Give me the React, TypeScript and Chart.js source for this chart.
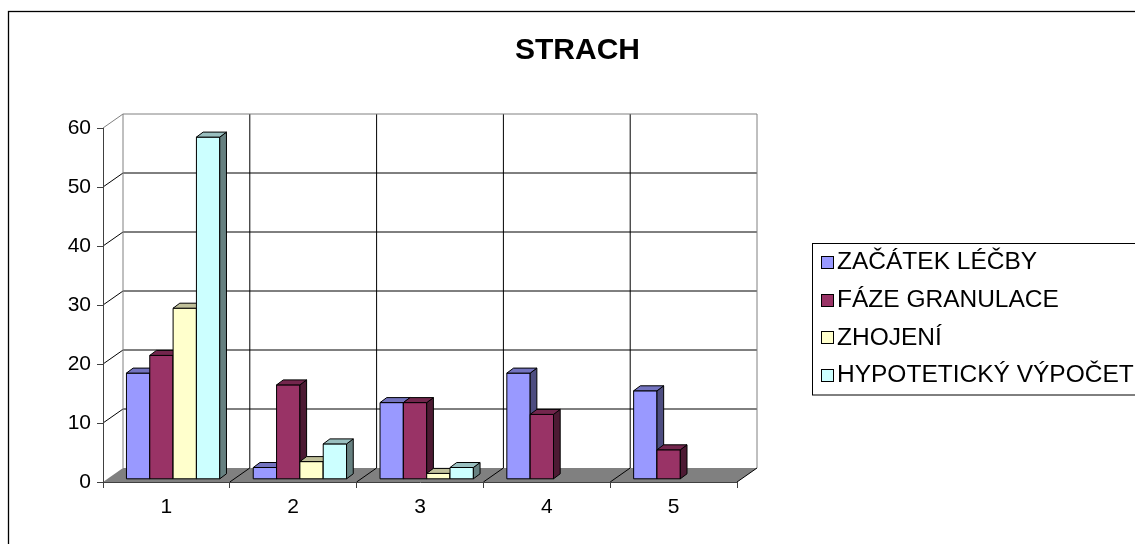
import React, { useEffect, useRef } from 'react';
import { Chart, registerables } from 'chart.js';

Chart.register(...registerables);

// Categories and series values
const categories = ['1', '2', '3', '4', '5'];
const seriesNames = ['ZAČÁTEK LÉČBY', 'FÁZE GRANULACE', 'ZHOJENÍ', 'HYPOTETICKÝ VÝPOČET'];
const zacatekLecby = [18, 2, 13, 18, 15];
const fazeGranulace = [21, 16, 13, 11, 5];
const zhojeni = [29, 3, 1, null, null];
const hypotetickyVypocet = [58, 6, 2, null, null];
const yMin = 0;
const yMax = 60;
const yStep = 10;
const titleText = 'STRACH';

// Face colours of the 3D columns: front, top (lit), side (shaded)
const frontColors = ['#9999FF', '#993366', '#FFFFCC', '#CCFFFF'];
const topColors = ['#7373BF', '#73264D', '#BFBF99', '#99BFBF'];
const sideColors = ['#4D4D80', '#4D1A33', '#808066', '#668080'];

const FONT = '"Liberation Sans", Arial, Helvetica, sans-serif';

// Oblique projection offsets
const WALL_DEPTH = { x: 20, y: -14 };
const BAR_SHIFT = { x: 6.7, y: -2.7 };
const BAR_DEPTH = { x: 6.7, y: -5 };

function poly(ctx: CanvasRenderingContext2D, pts: number[][], fill: string, stroke?: string) {
  ctx.beginPath();
  ctx.moveTo(pts[0][0], pts[0][1]);
  for (let i = 1; i < pts.length; i++) ctx.lineTo(pts[i][0], pts[i][1]);
  ctx.closePath();
  if (fill) {
    ctx.fillStyle = fill;
    ctx.fill();
  }
  if (stroke) {
    ctx.strokeStyle = stroke;
    ctx.lineWidth = 1;
    ctx.stroke();
  }
}

function line(ctx: CanvasRenderingContext2D, x1: number, y1: number, x2: number, y2: number, color: string) {
  ctx.beginPath();
  ctx.moveTo(x1, y1);
  ctx.lineTo(x2, y2);
  ctx.strokeStyle = color;
  ctx.lineWidth = 1;
  ctx.stroke();
}

const excel3dPlugin = {
  id: 'excel3d',
  beforeDraw(chart: any) {
    const { ctx, chartArea: a, scales } = chart;
    const yScale = scales.y;
    const L = a.left;
    const R = a.right;
    const T = a.top;
    const B = a.bottom;
    const dx = WALL_DEPTH.x;
    const dy = WALL_DEPTH.y;
    const cw = (R - L) / categories.length;

    ctx.save();
    ctx.fillStyle = '#ffffff';
    ctx.fillRect(0, 0, chart.width, chart.height);

    // outer frame
    ctx.strokeStyle = '#000000';
    ctx.lineWidth = 1.3;
    ctx.strokeRect(8.5, 11.5, chart.width + 40, chart.height + 40);

    // title
    ctx.fillStyle = '#000000';
    ctx.font = `bold 30px ${FONT}`;
    ctx.textAlign = 'center';
    ctx.textBaseline = 'middle';
    ctx.fillText(titleText, 577.5, 51);

    // back wall
    poly(ctx, [[L + dx, T + dy], [R + dx, T + dy], [R + dx, B + dy], [L + dx, B + dy]], '#ffffff');
    // side wall
    poly(ctx, [[L, T], [L + dx, T + dy], [L + dx, B + dy], [L, B]], '#ffffff');
    // floor
    poly(ctx, [[L, B], [R, B], [R + dx, B + dy], [L + dx, B + dy]], '#808080');

    // horizontal gridlines on back and side walls
    for (let v = yMin + yStep; v < yMax; v += yStep) {
      const yp = yScale.getPixelForValue(v);
      line(ctx, L + dx, yp + dy, R + dx, yp + dy, '#000000');
      line(ctx, L, yp, L + dx, yp + dy, '#000000');
    }
    // vertical gridlines on back wall at category boundaries
    for (let k = 1; k < categories.length; k++) {
      const xb = L + k * cw + dx;
      line(ctx, xb, T + dy, xb, B + dy, '#000000');
    }
    // wall edges
    line(ctx, L + dx, T + dy, R + dx, T + dy, '#808080');
    line(ctx, R + dx, T + dy, R + dx, B + dy, '#808080');
    line(ctx, L + dx, T + dy, L + dx, B + dy, '#808080');
    line(ctx, L, T, L + dx, T + dy, '#808080');

    // floor division lines
    for (let k = 1; k <= categories.length; k++) {
      const xf = L + k * cw;
      line(ctx, xf, B, xf + dx, B + dy, '#000000');
    }
    ctx.restore();
  },
  beforeDatasetsDraw(chart: any) {
    const { ctx } = chart;
    ctx.save();
    ctx.lineJoin = 'miter';
    chart.data.datasets.forEach((ds: any, i: number) => {
      const meta = chart.getDatasetMeta(i);
      meta.data.forEach((el: any, j: number) => {
        const v = ds.data[j];
        if (v === null || v === undefined) return;
        const x0 = el.x - el.width / 2 + BAR_SHIFT.x;
        const x1 = el.x + el.width / 2 + BAR_SHIFT.x;
        const yt = el.y + BAR_SHIFT.y;
        const yb = el.base + BAR_SHIFT.y;
        const ddx = BAR_DEPTH.x;
        const ddy = BAR_DEPTH.y;
        // front face
        poly(ctx, [[x0, yt], [x1, yt], [x1, yb], [x0, yb]], frontColors[i], '#000000');
        // side face
        poly(ctx, [[x1, yb], [x1, yt], [x1 + ddx, yt + ddy], [x1 + ddx, yb + ddy]], sideColors[i], '#000000');
        // top face
        poly(ctx, [[x0, yt], [x1, yt], [x1 + ddx, yt + ddy], [x0 + ddx, yt + ddy]], topColors[i], '#000000');
      });
    });
    ctx.restore();
    return false;
  },
  afterDraw(chart: any) {
    const { ctx } = chart;
    ctx.save();
    // legend box
    ctx.strokeStyle = '#000000';
    ctx.lineWidth = 1;
    ctx.strokeRect(812.5, 243.5, 400, 151.5);
    const rowStart = 261.7;
    const rowStep = 37.8;
    seriesNames.forEach((name, i) => {
      const cy = rowStart + i * rowStep;
      ctx.fillStyle = frontColors[i];
      ctx.fillRect(821.5, Math.round(cy) - 5.5, 12, 12);
      ctx.strokeStyle = '#000000';
      ctx.strokeRect(821.5, Math.round(cy) - 5.5, 12, 12);
      ctx.save();
      ctx.translate(837, cy + 1);
      ctx.scale(1.065, 1);
      ctx.font = `23px ${FONT}`;
      ctx.textAlign = 'left';
      ctx.textBaseline = 'middle';
      ctx.fillStyle = '#000000';
      ctx.fillText(name, 0, 0);
      ctx.restore();
    });
    ctx.restore();
  },
};

export default function App() {
  const canvasRef = useRef<HTMLCanvasElement | null>(null);

  useEffect(() => {
    const canvas = canvasRef.current;
    if (!canvas) return;
    const seriesValues = [zacatekLecby, fazeGranulace, zhojeni, hypotetickyVypocet];
    const chart = new Chart(canvas, {
      type: 'bar',
      data: {
        labels: categories,
        datasets: seriesNames.map((name, i) => ({
          label: name,
          data: seriesValues[i],
          backgroundColor: frontColors[i],
          borderColor: '#000000',
          borderWidth: 1,
          categoryPercentage: 0.736,
          barPercentage: 1,
        })),
      },
      options: {
        responsive: false,
        animation: false,
        devicePixelRatio: 1,
        layout: { padding: { left: 0, top: 128, right: 398, bottom: 0 } },
        plugins: {
          legend: { display: false },
          title: { display: false },
          tooltip: { enabled: false },
        },
        scales: {
          x: {
            offset: true,
            grid: { offset: true, drawOnChartArea: false, drawTicks: true, tickLength: 6, color: '#404040' },
            border: { display: true, color: '#404040' },
            ticks: { font: { family: FONT, size: 21 }, color: '#000000', padding: 7 },
            afterFit: (s: any) => {
              s.height = 62;
            },
          },
          y: {
            min: yMin,
            max: yMax,
            grid: { drawOnChartArea: false, drawTicks: true, tickLength: 6, color: '#404040' },
            border: { display: true, color: '#404040' },
            ticks: { stepSize: yStep, font: { family: FONT, size: 21 }, color: '#000000', padding: 6 },
            afterFit: (s: any) => {
              s.width = 103;
            },
          },
        },
      },
      plugins: [excel3dPlugin],
    } as any);
    return () => chart.destroy();
  }, []);

  return (
    <div style={{ position: 'fixed', left: 0, top: 0, width: 1135, height: 544, overflow: 'hidden', background: '#ffffff' }}>
      <canvas ref={canvasRef} width={1135} height={544} style={{ display: 'block' }} />
    </div>
  );
}
